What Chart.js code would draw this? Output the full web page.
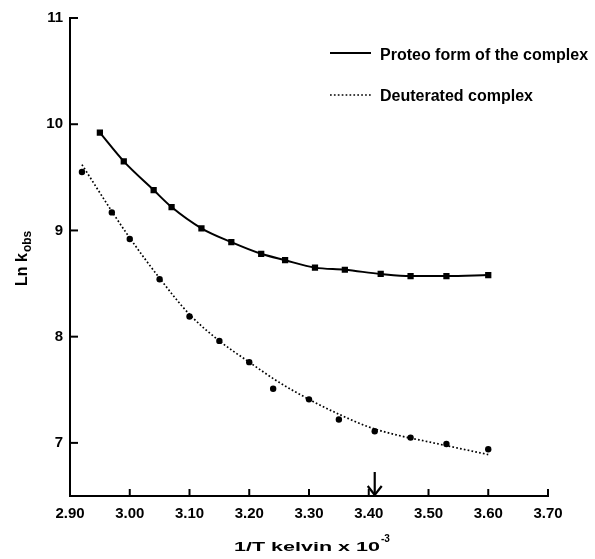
<!DOCTYPE html>
<html>
<head>
<meta charset="utf-8">
<script src="https://cdn.jsdelivr.net/npm/chart.js@4"></script>
<style>
  html, body { margin: 0; padding: 0; background: #fff; overflow: hidden; }
  #wrap { width: 595px; height: 559px; }
  canvas { display: block; }
</style>
</head>
<body>
<div id="wrap"><canvas id="c" width="595" height="559"></canvas></div>
<script>
// ---- data ----
const xTicks = [2.90, 3.00, 3.10, 3.20, 3.30, 3.40, 3.50, 3.60, 3.70];
const yTicks = [7, 8, 9, 10, 11];

const proteoX = [2.95, 2.99, 3.04, 3.07, 3.12, 3.17, 3.22, 3.26, 3.31, 3.36, 3.42, 3.47, 3.53, 3.60];
const proteoY = [9.92, 9.65, 9.38, 9.22, 9.02, 8.89, 8.78, 8.72, 8.65, 8.63, 8.59, 8.57, 8.57, 8.58];

const deutX = [2.92, 2.97, 3.00, 3.05, 3.10, 3.15, 3.20, 3.24, 3.30, 3.35, 3.41, 3.47, 3.53, 3.60];
const deutY = [9.55, 9.17, 8.92, 8.54, 8.19, 7.96, 7.76, 7.51, 7.41, 7.22, 7.11, 7.05, 6.99, 6.94];

// dotted fitted curve for the deuterated complex
const deutFitX = [2.92, 2.97, 3.00, 3.05, 3.10, 3.15, 3.20, 3.25, 3.30, 3.35, 3.40, 3.45, 3.50, 3.55, 3.60];
const deutFitY = [9.62, 9.18, 8.93, 8.55, 8.21, 7.96, 7.76, 7.57, 7.41, 7.27, 7.15, 7.07, 7.01, 6.95, 6.89];

const arrowX = 3.41;
const legendLabels = ["Proteo form of the complex", "Deuterated complex"];
const xTitle = "1/T kelvin x 10";
const xTitleSup = "-3";
const yTitle = "Ln k";
const yTitleSub = "obs";

const pts = (xs, ys) => xs.map((x, i) => ({ x: x, y: ys[i] }));

Chart.defaults.font.family = "'Liberation Sans', Arial, sans-serif";
Chart.defaults.color = "#000";

const FONT = "'Liberation Sans', Arial, sans-serif";

const decor = {
  id: 'decor',
  afterDatasetsDraw(chart) {
    const ctx = chart.ctx;
    const xs = chart.scales.x, ys = chart.scales.y;
    const a = chart.chartArea;
    ctx.save();
    ctx.strokeStyle = '#000';
    ctx.fillStyle = '#000';
    ctx.lineWidth = 2;
    // inward tick marks
    yTicks.forEach(v => {
      const py = ys.getPixelForValue(v);
      ctx.beginPath(); ctx.moveTo(a.left, py); ctx.lineTo(a.left + 8, py); ctx.stroke();
    });
    xTicks.forEach(v => {
      const px = xs.getPixelForValue(v);
      ctx.beginPath(); ctx.moveTo(px, a.bottom); ctx.lineTo(px, a.bottom - 7); ctx.stroke();
    });
    // arrow
    const ax = xs.getPixelForValue(arrowX);
    ctx.lineWidth = 2.2;
    ctx.beginPath(); ctx.moveTo(ax, a.bottom - 24); ctx.lineTo(ax, a.bottom - 1); ctx.stroke();
    ctx.beginPath(); ctx.moveTo(ax - 7, a.bottom - 10); ctx.lineTo(ax, a.bottom - 1); ctx.lineTo(ax + 7, a.bottom - 10); ctx.stroke();

    // legend
    ctx.lineWidth = 2;
    ctx.beginPath(); ctx.moveTo(330, 53); ctx.lineTo(371, 53); ctx.stroke();
    ctx.setLineDash([1.7, 2.2]);
    ctx.lineWidth = 1.7;
    ctx.beginPath(); ctx.moveTo(330, 95); ctx.lineTo(371, 95); ctx.stroke();
    ctx.setLineDash([]);
    ctx.font = "bold 16px " + FONT;
    ctx.textBaseline = 'middle';
    ctx.textAlign = 'left';
    ctx.fillText(legendLabels[0], 380, 56);
    ctx.fillText(legendLabels[1], 380, 97);

    // x title with superscript
    ctx.font = "bold 13px " + FONT;
    ctx.textBaseline = 'alphabetic';
    const w = ctx.measureText(xTitle).width;
    const target = 146;
    const sx = target / w;
    ctx.save();
    ctx.translate(234, 551);
    ctx.scale(sx, 1);
    ctx.fillText(xTitle, 0, 0);
    ctx.restore();
    ctx.font = "bold 10px " + FONT;
    ctx.fillText(xTitleSup, 234 + target + 1, 542);

    // y title with subscript
    ctx.save();
    ctx.translate(27, 286);
    ctx.rotate(-Math.PI / 2);
    ctx.font = "bold 16px " + FONT;
    ctx.fillText(yTitle, 0, 0);
    const w2 = ctx.measureText(yTitle).width;
    ctx.font = "bold 12px " + FONT;
    ctx.fillText(yTitleSub, w2 + 1, 4);
    ctx.restore();
    ctx.restore();
  }
};

new Chart(document.getElementById('c'), {
  type: 'scatter',
  data: {
    datasets: [
      {
        label: 'fit',
        data: pts(deutFitX, deutFitY),
        showLine: true,
        borderColor: '#000',
        borderWidth: 1.7,
        borderDash: [1.7, 2.2],
        pointRadius: 0,
        cubicInterpolationMode: 'monotone',
        fill: false
      },
      {
        label: legendLabels[1],
        data: pts(deutX, deutY),
        showLine: false,
        pointStyle: 'circle',
        pointRadius: 3.2,
        backgroundColor: '#000',
        borderColor: '#000',
        borderWidth: 0
      },
      {
        label: legendLabels[0],
        data: pts(proteoX, proteoY),
        showLine: true,
        borderColor: '#000',
        borderWidth: 2,
        cubicInterpolationMode: 'monotone',
        pointStyle: 'rect',
        pointRadius: 3,
        backgroundColor: '#000',
        fill: false
      }
    ]
  },
  options: {
    responsive: false,
    animation: false,
    events: [],
    layout: { padding: { top: 18, right: 47, left: 0, bottom: 0 } },
    plugins: { legend: { display: false }, tooltip: { enabled: false } },
    scales: {
      x: {
        type: 'linear',
        min: 2.90, max: 3.70,
        afterBuildTicks: s => { s.ticks = xTicks.map(v => ({ value: v })); },
        afterFit: s => { s.height = 63; },
        ticks: {
          callback: v => Number(v).toFixed(2),
          font: { size: 15, weight: 'bold' },
          color: '#000',
          padding: 9,
          maxRotation: 0
        },
        grid: { display: true, drawOnChartArea: false, drawTicks: false },
        border: { display: true, color: '#000', width: 2 }
      },
      y: {
        type: 'linear',
        min: 6.5, max: 11,
        afterBuildTicks: s => { s.ticks = yTicks.map(v => ({ value: v })); },
        afterFit: s => { s.width = 70; },
        ticks: {
          callback: v => String(v),
          font: { size: 15, weight: 'bold' },
          color: '#000',
          padding: 7
        },
        grid: { display: true, drawOnChartArea: false, drawTicks: false },
        border: { display: true, color: '#000', width: 2 }
      }
    }
  },
  plugins: [decor]
});
</script>
</body>
</html>
